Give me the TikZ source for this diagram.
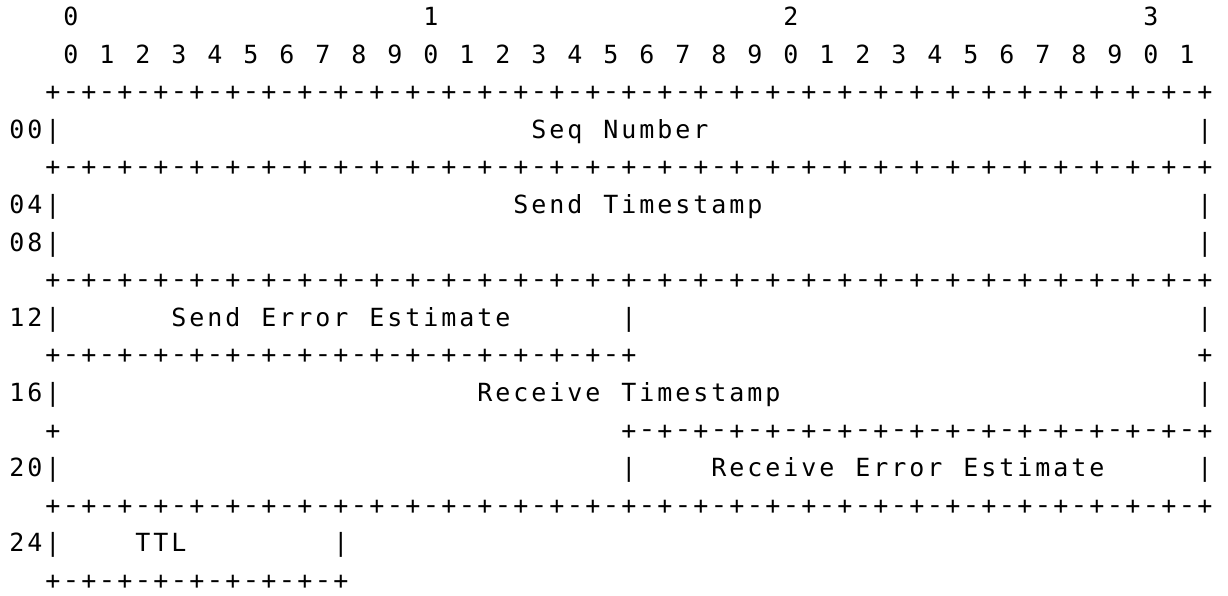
\documentclass[tikz,border=0pt]{standalone}
\usepackage{fontspec}
\usepackage{graphicx}
\newfontfamily\asciifont{DejaVu Sans Mono}
\tikzset{ch/.style={anchor=base, inner sep=0pt, outer sep=0pt, font=\asciifont\fontsize{25}{25}\selectfont, text=black}}
% place one character at grid (row, col)
\newcommand\placechar[3]{\node[ch] (r#1c#2) at ({17+18*#2},{25.5+37.6*(#1-1)}) {#3};}
% dash of a border line, slightly widened and raised to meet the crossbar of the plus signs
\newcommand\placedash[2]{\node[ch] (r#1c#2) at ({17+18*#2},{25.5+37.6*(#1-1)-1.2}) {\scalebox{1.15}[1]{-}};}
% border line: row, start column, number of cells
\newcommand\border[3]{%
  \foreach \k in {0,...,#3}{\pgfmathtruncatemacro\cc{#2+2*\k}\placechar{#1}{\cc}{+}}%
  \foreach \k in {1,...,#3}{\pgfmathtruncatemacro\cc{#2+2*\k-1}\placedash{#1}{\cc}}%
}
\ExplSyntaxOn
\int_new:N \l_ascii_col_int
\NewDocumentCommand \asciiseg { m m m }
 {
  \int_set:Nn \l_ascii_col_int { #2 }
  \str_map_inline:nn { #3 }
   {
    \str_if_eq:nnF { ##1 } { ~ }
     { \use:x { \exp_not:N \placechar { #1 } { \int_use:N \l_ascii_col_int } { \exp_not:n { ##1 } } } }
    \int_incr:N \l_ascii_col_int
   }
 }
\ExplSyntaxOff
\begin{document}
\begin{tikzpicture}[x=1pt,y=-1pt]
\useasboundingbox[fill=white] (0,0) rectangle (1228,596);
% header
\placechar{1}{3}{0}\placechar{1}{23}{1}\placechar{1}{43}{2}\placechar{1}{63}{3}
\asciiseg{2}{3}{0 1 2 3 4 5 6 7 8 9 0 1 2 3 4 5 6 7 8 9 0 1 2 3 4 5 6 7 8 9 0 1}
\border{3}{2}{32}
% 00
\asciiseg{4}{0}{00|}\asciiseg{4}{29}{Seq Number}\placechar{4}{66}{|}
\border{5}{2}{32}
% 04 / 08
\asciiseg{6}{0}{04|}\asciiseg{6}{28}{Send Timestamp}\placechar{6}{66}{|}
\asciiseg{7}{0}{08|}\placechar{7}{66}{|}
\border{8}{2}{32}
% 12
\asciiseg{9}{0}{12|}\asciiseg{9}{9}{Send Error Estimate}\placechar{9}{34}{|}\placechar{9}{66}{|}
\border{10}{2}{16}\placechar{10}{66}{+}
% 16
\asciiseg{11}{0}{16|}\asciiseg{11}{26}{Receive Timestamp}\placechar{11}{66}{|}
\placechar{12}{2}{+}\border{12}{34}{16}
% 20
\asciiseg{13}{0}{20|}\placechar{13}{34}{|}\asciiseg{13}{39}{Receive Error Estimate}\placechar{13}{66}{|}
\border{14}{2}{32}
% 24
\asciiseg{15}{0}{24|}\asciiseg{15}{7}{TTL}\placechar{15}{18}{|}
\border{16}{2}{8}
\end{tikzpicture}
\end{document}
